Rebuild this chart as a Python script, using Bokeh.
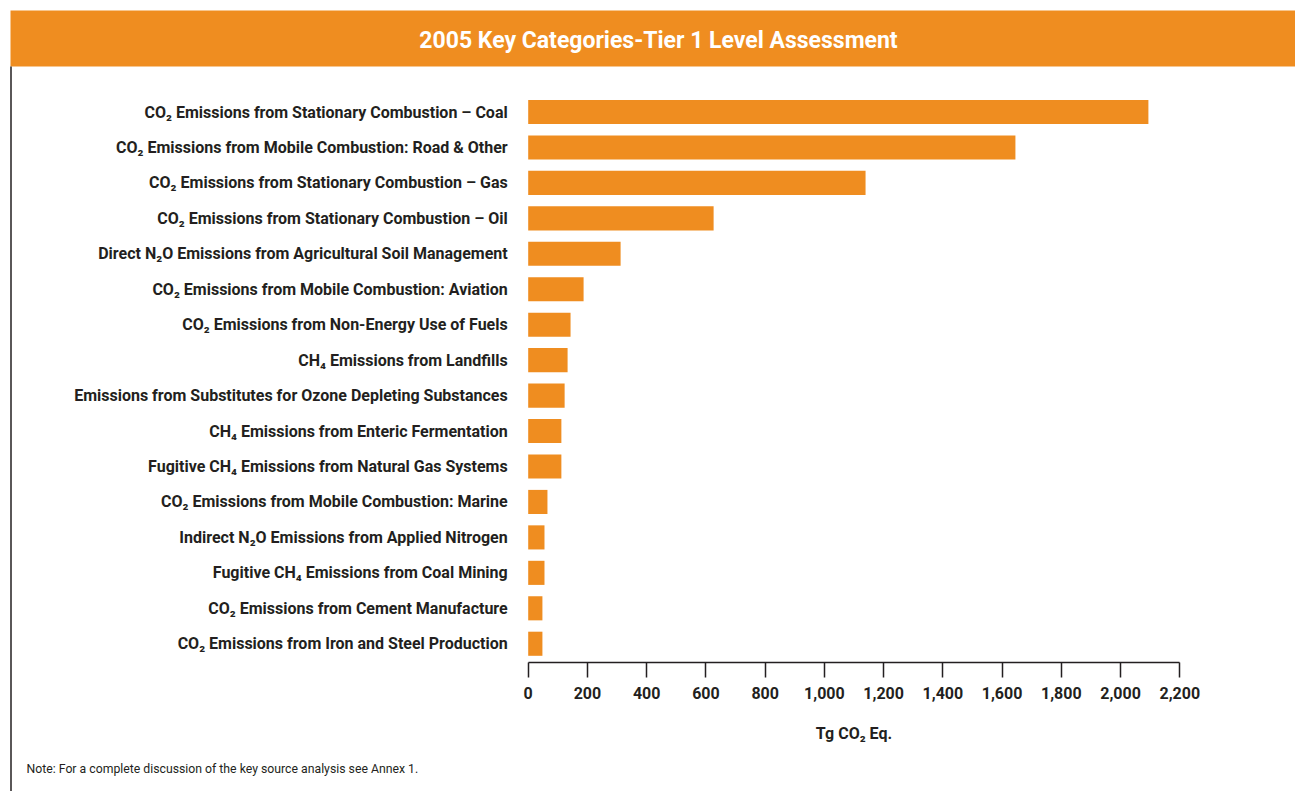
from bokeh.plotting import figure
from bokeh.models import Range1d, FixedTicker, NumeralTickFormatter, ColumnDataSource
from bokeh.core.properties import value
from bokeh.embed import file_html
from bokeh.resources import INLINE

# ---------------- data ----------------
categories = [
    "CO₂ Emissions from Stationary Combustion – Coal",
    "CO₂ Emissions from Mobile Combustion: Road & Other",
    "CO₂ Emissions from Stationary Combustion – Gas",
    "CO₂ Emissions from Stationary Combustion – Oil",
    "Direct N₂O Emissions from Agricultural Soil Management",
    "CO₂ Emissions from Mobile Combustion: Aviation",
    "CO₂ Emissions from Non-Energy Use of Fuels",
    "CH₄ Emissions from Landfills",
    "Emissions from Substitutes for Ozone Depleting Substances",
    "CH₄ Emissions from Enteric Fermentation",
    "Fugitive CH₄ Emissions from Natural Gas Systems",
    "CO₂ Emissions from Mobile Combustion: Marine",
    "Indirect N₂O Emissions from Applied Nitrogen",
    "Fugitive CH₄ Emissions from Coal Mining",
    "CO₂ Emissions from Cement Manufacture",
    "CO₂ Emissions from Iron and Steel Production",
]
values = [2094, 1645, 1139, 626, 312, 187, 143, 133, 123, 112, 112, 65, 55, 55, 48, 48]
x_ticks = [0, 200, 400, 600, 800, 1000, 1200, 1400, 1600, 1800, 2000, 2200]
title_text = "2005 Key Categories-Tier 1 Level Assessment"
x_label = "Tg CO₂ Eq."
note_text = "Note: For a complete discussion of the key source analysis see Annex 1."

# ---------------- geometry (page pixels) ----------------
W, H = 1295, 791
ORIGIN = 0                             # figure origin on the page
X0_PX, X1_PX = 527.7, 1179.3           # page x of 0 and of the last tick
XMAX = x_ticks[-1]
SX = (X1_PX - X0_PX) / XMAX
ROW0_PX, ROW_STEP = 111.5, 35.45


def dx(page_x):
    return (page_x - X0_PX) / SX


def dy(page_y):
    return (page_y - ROW0_PX) / ROW_STEP


ORANGE = "#EF8D20"
INK = "#231F20"
FONT = "Roboto"

p = figure(
    width=W, height=H,
    x_range=Range1d(dx(ORIGIN), dx(ORIGIN + W)),
    y_range=Range1d(dy(ORIGIN + H), dy(ORIGIN)),
    output_backend="svg", toolbar_location=None,
    y_axis_location=None, x_axis_location="below",
    min_border=0, min_border_left=0, min_border_right=0,
    min_border_top=0, min_border_bottom=0,
)
p.outline_line_color = None
p.xgrid.visible = False
p.ygrid.visible = False
p.background_fill_color = "white"
p.border_fill_color = "white"

idx = list(range(len(categories)))
src = ColumnDataSource(dict(y=idx, v=values, cat=categories))

# banner
p.quad(left=[dx(10)], right=[dx(1300)], top=[dy(10)], bottom=[dy(66)],
       fill_color=ORANGE, line_color=None)
p.text(x=[dx(658)], y=[dy(39.5)], text=[title_text], text_color="white",
       text_font=value(FONT), text_font_style="bold", text_font_size="23px",
       text_align="center", text_baseline="middle")

# left rule
p.segment(x0=[dx(10.5)], y0=[dy(66)], x1=[dx(10.5)], y1=[dy(800)],
          line_color=INK, line_width=1.5)

# bars
p.hbar(y="y", left=0, right="v", height=0.68, source=src,
       fill_color=ORANGE, line_color=None)

# category labels
p.text(x=0, y="y", text="cat", source=src, x_offset=-20.5,
       text_align="right", text_baseline="middle",
       text_font=value(FONT), text_font_style="bold", text_font_size="16px",
       text_color=INK)

# note
p.text(x=[dx(26)], y=[dy(768)], text=[note_text], text_align="left",
       text_baseline="middle", text_font=value(FONT), text_font_size="12.25px",
       text_color=INK)

# x axis
ax = p.xaxis[0]
ax.fixed_location = dy(662)
ax.bounds = (0, XMAX)
ax.ticker = FixedTicker(ticks=x_ticks)
ax.formatter = NumeralTickFormatter(format="0,0")
ax.axis_line_color = INK
ax.axis_line_width = 1.5
ax.major_tick_line_color = INK
ax.major_tick_line_width = 1.5
ax.major_tick_in = 0
ax.major_tick_out = 15
ax.minor_tick_line_color = None
ax.major_label_standoff = 9
ax.major_label_text_font = FONT
ax.major_label_text_font_style = "bold"
ax.major_label_text_font_size = "16px"
ax.major_label_text_color = INK
ax.axis_label = x_label
ax.axis_label_standoff = 22
ax.axis_label_text_font = FONT
ax.axis_label_text_font_style = "bold"
ax.axis_label_text_font_size = "16px"
ax.axis_label_text_color = INK

open("out.html", "w").write(file_html(p, INLINE))
